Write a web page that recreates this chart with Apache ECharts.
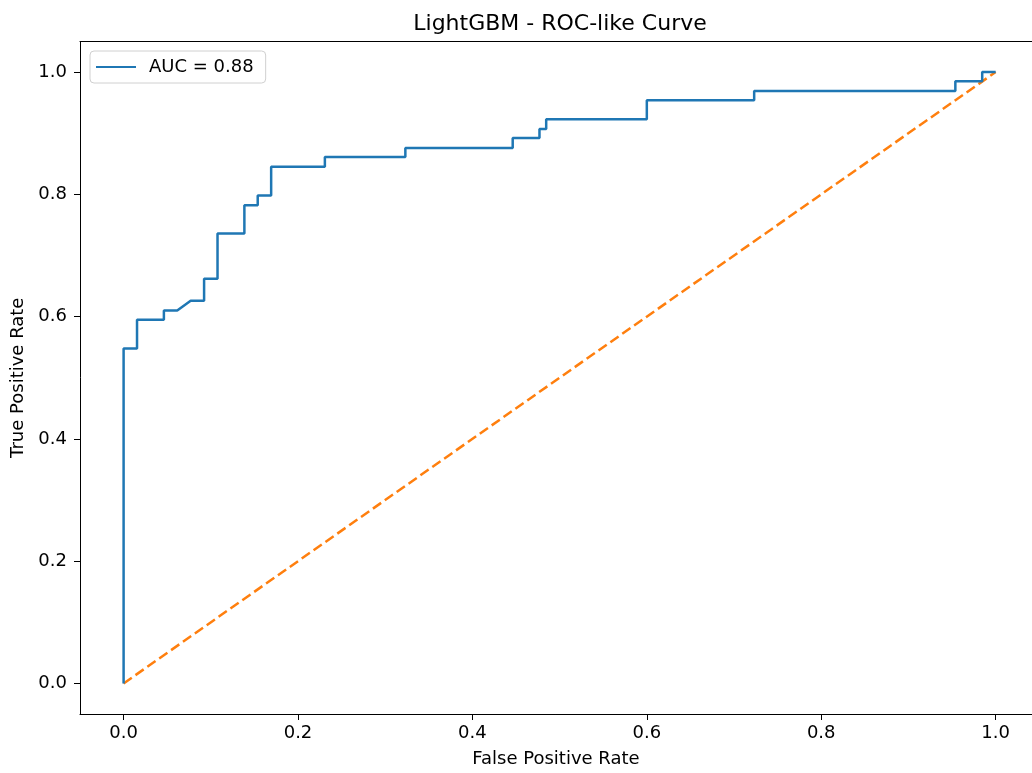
<!DOCTYPE html>
<html>
<head>
<meta charset="utf-8">
<script src="https://cdn.jsdelivr.net/npm/echarts@6/dist/echarts.min.js"></script>
<style>
  html, body { margin: 0; padding: 0; background: #fff; }
  #chart { width: 1032px; height: 773px; }
</style>
</head>
<body>
<div id="chart"></div>
<script>
// ROC vertices (false positive rate, true positive rate)
var fpr = [0, 0, 0.0154, 0.0154, 0.0462, 0.0462, 0.0615, 0.0769, 0.0923, 0.0923, 0.1077, 0.1077,
  0.1385, 0.1385, 0.1538, 0.1538, 0.1692, 0.1692, 0.2308, 0.2308, 0.3231, 0.3231, 0.4462, 0.4462,
  0.4769, 0.4769, 0.4846, 0.4846, 0.6, 0.6, 0.7231, 0.7231, 0.9538, 0.9538, 0.9846, 0.9846, 1.0];
var tpr = [0, 0.548, 0.548, 0.595, 0.595, 0.61, 0.61, 0.626, 0.626, 0.662, 0.662, 0.736,
  0.736, 0.782, 0.782, 0.798, 0.798, 0.845, 0.845, 0.861, 0.861, 0.876, 0.876, 0.892,
  0.892, 0.907, 0.907, 0.923, 0.923, 0.954, 0.954, 0.969, 0.969, 0.985, 0.985, 1.0, 1.0];
var chanceX = [0, 1];
var chanceY = [0, 1];
var tickValues = [0, 0.2, 0.4, 0.6, 0.8, 1.0];
var curveName = 'AUC = 0.88';

var font = 'DejaVu Sans';
var myChart = echarts.init(document.getElementById('chart'));

function zip(a, b) {
  return a.map(function (v, i) { return [v, b[i]]; });
}

// the figure is cut off on the right, so the x range ends a bit before 1.05
var label = { fontFamily: font, fontSize: 18, color: '#000' };
var spine = { show: true, onZero: false, lineStyle: { color: '#000', width: 1 } };

var option = {
  animation: false,
  backgroundColor: '#fff',
  title: {
    text: 'LightGBM - ROC-like Curve',
    left: 555,
    top: 8,
    textAlign: 'center',
    textStyle: { fontFamily: font, fontSize: 22, fontWeight: 'normal', color: '#000' }
  },
  legend: {
    left: 90,
    top: 51,
    data: [{ name: curveName, icon: 'rect' }],
    itemWidth: 40,
    itemHeight: 2,
    padding: [7, 12, 7, 6],
    backgroundColor: '#fff',
    borderColor: '#d0d0d0',
    borderWidth: 1,
    borderRadius: 4,
    textStyle: { fontFamily: font, fontSize: 18, color: '#000', padding: [0, 0, 0, 8] }
  },
  grid: {
    left: 80,
    right: 0,
    top: 41.5,
    height: 673
  },
  xAxis: [{
    type: 'value',
    min: -0.05,
    max: 1.0417,
    name: 'False Positive Rate',
    nameLocation: 'middle',
    nameGap: 36,
    nameTextStyle: label,
    splitLine: { show: false },
    axisLine: spine,
    axisTick: { show: true, inside: false, length: 6, customValues: tickValues, lineStyle: { color: '#000' } },
    axisLabel: Object.assign({
      customValues: tickValues,
      margin: 10,
      formatter: function (v) { return v.toFixed(1); }
    }, label)
  }, {
    // top spine only
    type: 'value',
    position: 'top',
    min: -0.05,
    max: 1.0417,
    splitLine: { show: false },
    axisLine: spine,
    axisTick: { show: false },
    axisLabel: { show: false }
  }],
  yAxis: {
    type: 'value',
    min: -0.05,
    max: 1.05,
    name: 'True Positive Rate',
    nameLocation: 'middle',
    nameGap: 52,
    nameTextStyle: label,
    splitLine: { show: false },
    axisLine: spine,
    axisTick: { show: true, inside: false, length: 6, customValues: tickValues, lineStyle: { color: '#000' } },
    axisLabel: Object.assign({
      customValues: tickValues,
      margin: 13,
      formatter: function (v) { return v.toFixed(1); }
    }, label)
  },
  series: [
    {
      name: curveName,
      type: 'line',
      data: zip(fpr, tpr),
      symbol: 'none',
      color: '#1f77b4',
      lineStyle: { width: 2.5, color: '#1f77b4' },
      z: 3
    },
    {
      name: 'chance',
      type: 'line',
      data: zip(chanceX, chanceY),
      symbol: 'none',
      color: '#ff7f0e',
      lineStyle: { width: 2.5, color: '#ff7f0e', type: [10, 4.5] },
      z: 2
    }
  ]
};
myChart.setOption(option);
</script>
</body>
</html>
